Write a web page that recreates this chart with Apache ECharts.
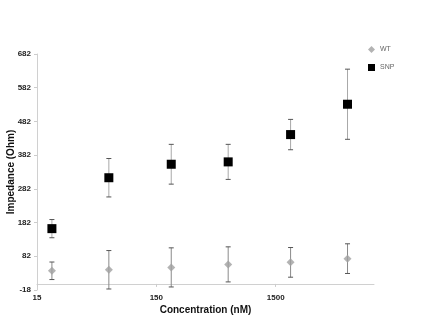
<!DOCTYPE html>
<html>
<head>
<meta charset="utf-8">
<script src="https://cdn.jsdelivr.net/npm/echarts@6/dist/echarts.min.js"></script>
<style>
  html, body { margin: 0; padding: 0; background: #fff; }
  #main { width: 432px; height: 336px; }
</style>
</head>
<body>
<div id="main"></div>
<script>
// concentrations (nM)
const conc = [20, 60, 200, 600, 2000, 6000];
const wtMean = [39, 42, 49, 58, 64, 75];
const wtErr = [26, 57, 58, 52, 44, 44];
const snpMean = [164, 315, 355, 362, 443, 533];
const snpErr = [27, 57, 59, 52, 45, 104];
const xTicks = [15, 150, 1500];

const font = 'Liberation Sans, Arial, sans-serif';

function errData(means, errs) {
  return conc.map((c, i) => [c, means[i] - errs[i], means[i] + errs[i]]);
}

function errBars(color) {
  return function (params, api) {
    const lo = api.coord([api.value(0), api.value(1)]);
    const hi = api.coord([api.value(0), api.value(2)]);
    const w = 2.5;
    const st = { stroke: color, lineWidth: 1 };
    return {
      type: 'group',
      children: [
        { type: 'line', shape: { x1: lo[0], y1: lo[1], x2: hi[0], y2: hi[1] }, style: st },
        { type: 'line', shape: { x1: lo[0] - w, y1: lo[1], x2: lo[0] + w, y2: lo[1] }, style: { stroke: '#555', lineWidth: 1 } },
        { type: 'line', shape: { x1: hi[0] - w, y1: hi[1], x2: hi[0] + w, y2: hi[1] }, style: { stroke: '#555', lineWidth: 1 } }
      ]
    };
  };
}

const chart = echarts.init(document.getElementById('main'));
chart.setOption({
  animation: false,
  textStyle: { fontFamily: font },
  grid: { left: 37, right: 58, top: 54, bottom: 46, containLabel: false, outerBoundsMode: 'none' },
  legend: {
    orient: 'vertical',
    left: 363,
    top: 41,
    itemWidth: 7,
    itemHeight: 7,
    itemGap: 11,
    textStyle: { fontSize: 7, color: '#666', fontFamily: font },
    data: [
      { name: 'WT', itemStyle: { color: '#a0a0a0' } },
      { name: 'SNP' }
    ]
  },
  xAxis: {
    type: 'log',
    logBase: 10,
    min: 15,
    max: 10000,
    name: 'Concentration (nM)',
    nameLocation: 'middle',
    nameGap: 15,
    nameMoveOverlap: false,
    nameTextStyle: { fontSize: 10, fontWeight: 'bold', color: '#111', fontFamily: font },
    axisLine: { onZero: true, lineStyle: { color: '#d0d0d0' } },
    axisTick: { show: true, length: 3, customValues: xTicks, lineStyle: { color: '#ccc' } },
    axisLabel: {
      customValues: xTicks, fontSize: 8, fontWeight: 'bold', color: '#222', margin: 4,
      formatter: v => String(Math.round(v))
    },
    splitLine: { show: false },
    minorTick: { show: false }
  },
  yAxis: {
    type: 'value',
    min: -18,
    max: 682,
    interval: 100,
    name: 'Impedance (Ohm)',
    nameLocation: 'middle',
    nameGap: 21,
    nameMoveOverlap: false,
    nameTextStyle: { fontSize: 10, fontWeight: 'bold', color: '#111', fontFamily: font },
    axisLine: { show: true, lineStyle: { color: '#d0d0d0' } },
    axisTick: { show: true, length: 3, lineStyle: { color: '#ccc' } },
    axisLabel: { fontSize: 8, fontWeight: 'bold', color: '#222', margin: 6 },
    splitLine: { show: false }
  },
  series: [
    {
      name: 'WT',
      type: 'scatter',
      symbol: 'diamond',
      symbolSize: 8,
      itemStyle: { color: '#a0a0a0' },
      z: 5,
      data: conc.map((c, i) => [c, wtMean[i]])
    },
    {
      name: 'SNP',
      type: 'scatter',
      symbol: 'rect',
      symbolSize: 9,
      itemStyle: { color: '#000', opacity: 1 },
      z: 5,
      data: conc.map((c, i) => [c, snpMean[i]])
    },
    {
      name: 'wtErr',
      type: 'custom',
      renderItem: errBars('#8a8a8a'),
      encode: { x: 0, y: [1, 2] },
      z: 2,
      silent: true,
      data: errData(wtMean, wtErr)
    },
    {
      name: 'snpErr',
      type: 'custom',
      renderItem: errBars('#a8a8a8'),
      encode: { x: 0, y: [1, 2] },
      z: 2,
      silent: true,
      data: errData(snpMean, snpErr)
    }
  ]
});
</script>
</body>
</html>
